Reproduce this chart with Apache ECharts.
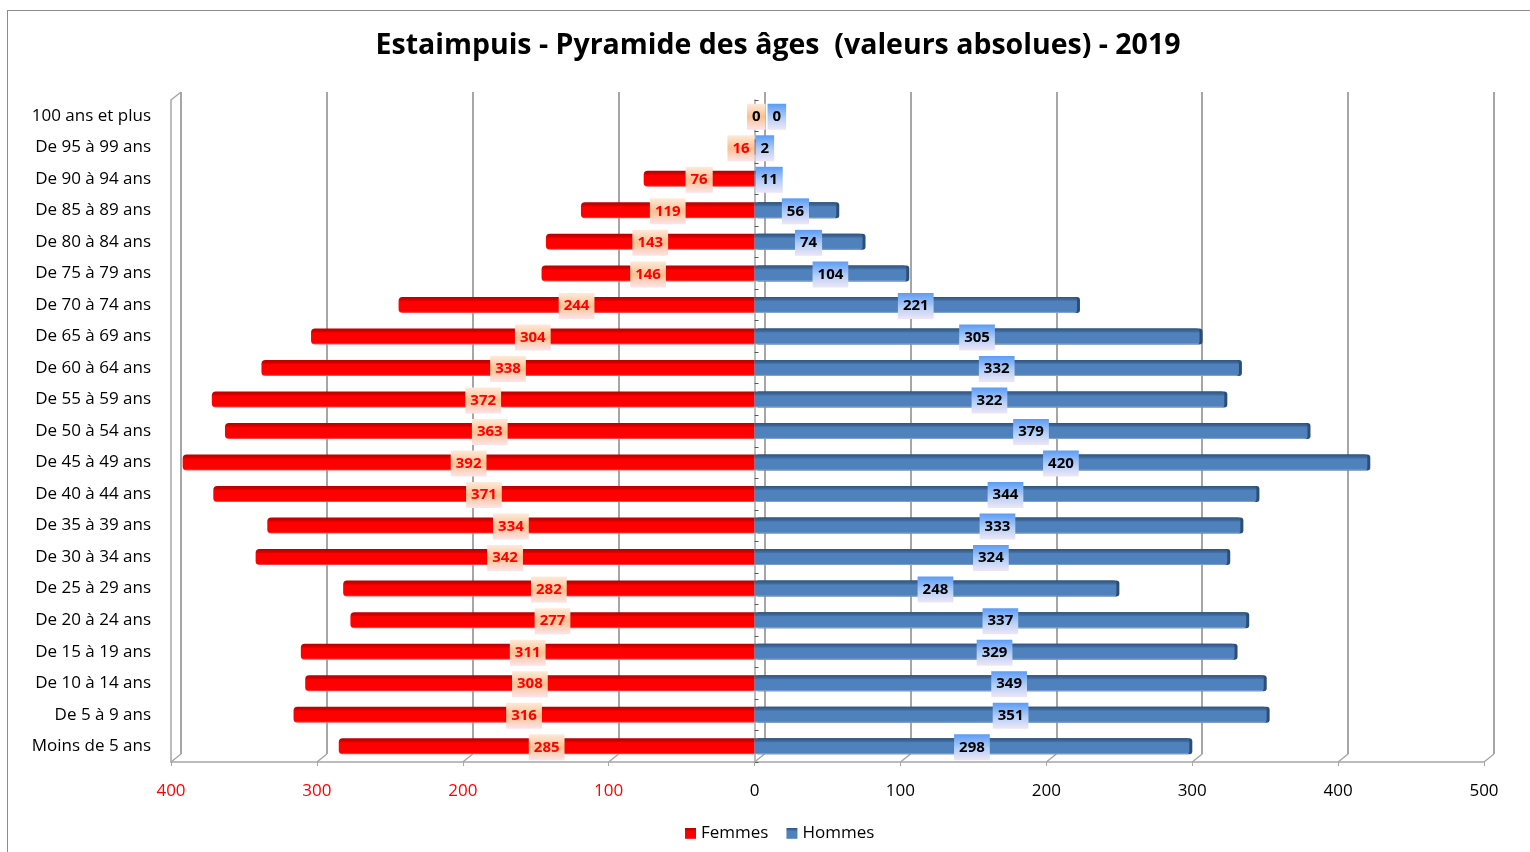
<!DOCTYPE html>
<html>
<head>
<meta charset="utf-8">
<script src="https://cdn.jsdelivr.net/npm/echarts@6/dist/echarts.min.js"></script>
<style>
html, body { margin: 0; background: #fff; }
#frame { position: absolute; left: 7px; top: 10px; width: 1530px; height: 900px; border-left: 1px solid #8c8c8c; border-top: 1px solid #8c8c8c; }
#chart { position: absolute; left: 0; top: 0; width: 1530px; height: 852px; }
</style>
</head>
<body>
<div id="frame"></div>
<div id="chart"></div>
<script>
var categories = ['Moins de 5 ans', 'De 5 à 9 ans', 'De 10 à 14 ans', 'De 15 à 19 ans', 'De 20 à 24 ans',
	'De 25 à 29 ans', 'De 30 à 34 ans', 'De 35 à 39 ans', 'De 40 à 44 ans', 'De 45 à 49 ans',
	'De 50 à 54 ans', 'De 55 à 59 ans', 'De 60 à 64 ans', 'De 65 à 69 ans', 'De 70 à 74 ans',
	'De 75 à 79 ans', 'De 80 à 84 ans', 'De 85 à 89 ans', 'De 90 à 94 ans', 'De 95 à 99 ans',
	'100 ans et plus'];
var femmes = [285, 316, 308, 311, 277, 282, 342, 334, 371, 392, 363, 372, 338, 304, 244, 146, 143, 119, 76, 16, 0];
var hommes = [298, 351, 349, 329, 337, 248, 324, 333, 344, 420, 379, 322, 332, 305, 221, 104, 74, 56, 11, 2, 0];
var xTicks = [-400, -300, -200, -100, 0, 100, 200, 300, 400, 500];

var font = '"Open Sans", "Noto Sans", sans-serif';
var myChart = echarts.init(document.getElementById('chart'));

// fond des étiquettes (dégradés façon Excel)
var femmesBox = new echarts.graphic.LinearGradient(0, 0, 0, 1, [
	{ offset: 0, color: '#fdeada' }, { offset: 0.5, color: '#fac08f' }, { offset: 1, color: '#fde4ea' }]);
var hommesBox = new echarts.graphic.LinearGradient(0, 0, 0, 1, [
	{ offset: 0, color: '#5b9bf5' }, { offset: 0.55, color: '#b4cff7' }, { offset: 1, color: '#efe6f5' }]);

var femmesData = femmes.map(function(v) {
	var item = { value: -v };
	if (v < 20) item.label = { position: 'insideRight', distance: v === 0 ? -11 : 0, color: v === 0 ? '#000' : '#ff0000' };
	return item;
});
var hommesData = hommes.map(function(v) {
	var item = { value: v };
	if (v < 20) item.label = { position: 'insideLeft', distance: v === 0 ? 13 : 1 };
	return item;
});

var option = {
	animation: false,
	title: {
		text: 'Estaimpuis - Pyramide des âges  (valeurs absolues) - 2019',
		left: 773, top: 26, textAlign: 'center',
		textStyle: { fontFamily: font, fontSize: 28.5, fontWeight: 'bold', color: '#000' }
	},
	legend: {
		bottom: 5, left: 680, itemWidth: 11, itemHeight: 11, itemGap: 18,
		icon: 'rect',
		data: ['Femmes', 'Hommes'],
		textStyle: { fontFamily: font, fontSize: 17, color: '#000' }
	},
	grid: [
		{ left: 171, right: 46, top: 100, bottom: 90 },
		{ left: 181, right: 36, top: 92, bottom: 98 }
	],
	xAxis: [{
		type: 'value', gridIndex: 0, min: -400, max: 500, interval: 100,
		axisLine: { show: true, lineStyle: { color: '#a6a6a6', width: 1.5 } },
		axisTick: { show: true, length: 4, lineStyle: { color: '#a6a6a6' } },
		splitLine: { show: false },
		axisLabel: {
			margin: 21, fontFamily: font, fontSize: 17,
			formatter: function(v) { return Math.abs(v); },
			color: function(v) { return v < 0 ? '#ff0000' : '#000'; }
		}
	}, {
		type: 'value', gridIndex: 1, min: -400, max: 500, interval: 100,
		axisLine: { show: false }, axisTick: { show: false }, axisLabel: { show: false },
		splitLine: { show: true, lineStyle: { color: '#a6a6a6', width: 2 } }
	}],
	yAxis: [{
		type: 'category', gridIndex: 0, data: categories,
		axisLine: { show: true, onZero: false, lineStyle: { color: '#a6a6a6', width: 1.5 } },
		axisTick: { show: false },
		axisLabel: { margin: 20, fontFamily: font, fontSize: 17, color: '#000' }
	}, {
		type: 'category', gridIndex: 0, data: categories,
		axisLine: { show: true, onZero: true, lineStyle: { color: '#a6a6a6', width: 1.5 } },
		axisTick: { show: true, length: 4, lineStyle: { color: '#595959' } },
		axisLabel: { show: false }
	}, {
		type: 'category', gridIndex: 1, data: categories, show: false
	}],
	series: [{
		name: 'Femmes', type: 'bar', xAxisIndex: 0, yAxisIndex: 0,
		barWidth: 16, barGap: '-100%', z: 3,
		itemStyle: {
			color: new echarts.graphic.LinearGradient(0, 0, 0, 1, [
				{ offset: 0, color: '#b80000' }, { offset: 0.2, color: '#d80000' }, { offset: 0.28, color: '#ff0000' },
				{ offset: 0.9, color: '#ff0000' }, { offset: 1, color: '#ff6060' }]),
			borderRadius: [4, 0, 0, 4]
		},
		label: {
			show: true, position: 'inside', color: '#ff0000', offset: [0, 1],
			fontFamily: font, fontSize: 15, fontWeight: 'bold',
			backgroundColor: femmesBox, padding: [6, 5, 5, 5],
			formatter: function(p) { return Math.abs(p.value); }
		},
		data: femmesData
	}, {
		name: 'Hommes', type: 'bar', xAxisIndex: 0, yAxisIndex: 0,
		barWidth: 16, z: 3,
		itemStyle: {
			color: new echarts.graphic.LinearGradient(0, 0, 0, 1, [
				{ offset: 0, color: '#2f5480' }, { offset: 0.2, color: '#416d9f' }, { offset: 0.28, color: '#4f81bd' },
				{ offset: 0.9, color: '#4f81bd' }, { offset: 1, color: '#8fb0da' }]),
			borderRadius: [0, 3, 3, 0],
			shadowColor: '#2c4d75', shadowOffsetX: 3, shadowOffsetY: 0, shadowBlur: 0
		},
		label: {
			show: true, position: 'inside', color: '#000', offset: [0, 1],
			fontFamily: font, fontSize: 15, fontWeight: 'bold',
			backgroundColor: hommesBox, padding: [6, 5, 5, 5]
		},
		data: hommesData
	}, {
		// diagonales du plancher et du mur gauche (effet 3D)
		type: 'custom', xAxisIndex: 0, yAxisIndex: 0, silent: true, z: 1,
		data: xTicks,
		renderItem: function(params, api) {
			var cs = params.coordSys;
			var x = api.coord([api.value(0), categories[0]])[0];
			var bottom = cs.y + cs.height;
			var style = { stroke: '#a6a6a6', lineWidth: 1.5 };
			var children = [{ type: 'line', shape: { x1: x, y1: bottom, x2: x + 10, y2: bottom - 8 }, style: style }];
			if (params.dataIndex === 0) {
				children.push({ type: 'line', shape: { x1: x, y1: cs.y, x2: x + 10, y2: cs.y - 8 }, style: style });
			}
			return { type: 'group', children: children };
		}
	}]
};
myChart.setOption(option);
</script>
</body>
</html>
